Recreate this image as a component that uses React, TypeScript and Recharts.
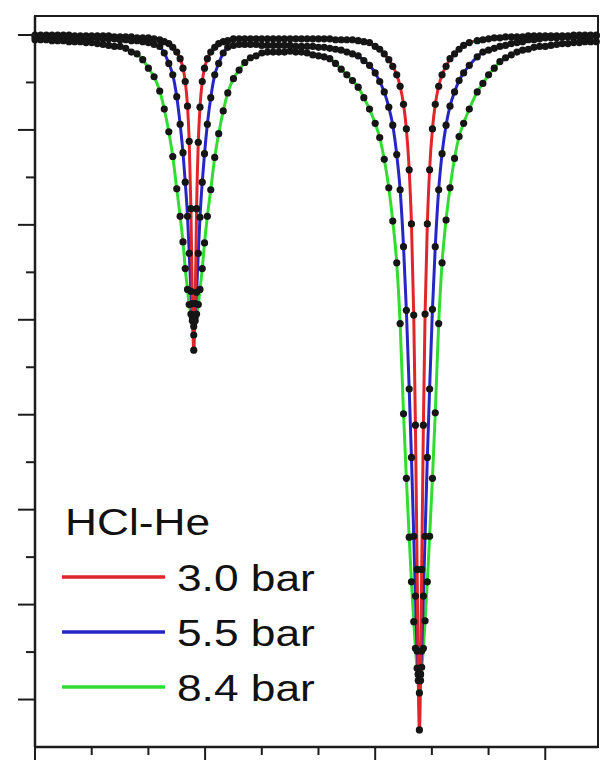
import React from 'react'
import { ComposedChart, Line, XAxis, YAxis, Legend, ReferenceArea } from 'recharts'

// detuning (arb. units) and normalised transmission
const FREQ = [
  0, 1, 2, 3, 4, 5, 6, 7, 8, 9, 10, 11, 12, 13, 14, 15, 16, 17, 18, 19, 20,
  21, 22, 22.8, 23.6, 24.3, 25, 25.6, 26.1, 26.5, 26.9, 27.2, 27.5, 27.75, 28, 28.25, 28.5, 28.8, 29.1, 29.5, 29.9, 30.4, 31, 31.7, 32.4, 33.2, 34, 35,
  36, 37, 38, 39, 40, 41, 42, 43, 44, 45, 46, 47, 48, 49, 50, 51, 52, 53, 54, 55, 56, 57, 58,
  59, 60, 60.8, 61.6, 62.4, 63.1, 63.8, 64.4, 65, 65.5, 66, 66.4, 66.8, 67.1, 67.4, 67.6, 67.8, 68, 68.2, 68.5, 68.8, 69.2, 69.6, 70.1, 70.6, 71.2, 71.8, 72.5, 73.2, 74, 74.8, 75.6, 76.6,
  78, 79, 80, 81, 82, 83, 84, 85, 86, 87, 88, 89, 90, 91, 92, 93, 94, 95, 96, 97, 98, 99,
]

const P30 = [
  1.0, 1.0, 1.0, 1.0, 1.0, 1.0, 1.0, 0.999, 0.999, 0.999, 0.999, 0.999, 0.999, 0.999, 0.998, 0.998, 0.998, 0.998, 0.997, 0.997, 0.997,
  0.996, 0.995, 0.993, 0.991, 0.987, 0.982, 0.975, 0.965, 0.951, 0.925, 0.888, 0.817, 0.717, 0.668, 0.717, 0.817, 0.887, 0.924, 0.951, 0.965, 0.975, 0.982, 0.987, 0.991, 0.993, 0.994, 0.996,
  0.996, 0.996, 0.996, 0.996, 0.996, 0.996, 0.996, 0.996, 0.996, 0.996, 0.996, 0.996, 0.996, 0.996, 0.996, 0.996, 0.996, 0.995, 0.995, 0.995, 0.995, 0.994, 0.993,
  0.992, 0.988, 0.985, 0.98, 0.974, 0.967, 0.958, 0.946, 0.927, 0.901, 0.858, 0.801, 0.705, 0.589, 0.437, 0.32, 0.268, 0.32, 0.437, 0.589, 0.706, 0.801, 0.858, 0.901, 0.927, 0.946, 0.958, 0.967, 0.975, 0.98, 0.985, 0.989, 0.992,
  0.994, 0.995, 0.996, 0.997, 0.997, 0.998, 0.998, 0.998, 0.998, 0.999, 0.999, 0.999, 0.999, 0.999, 0.999, 0.999, 0.999, 1.0, 1.0, 1.0, 1.0, 1.0,
]

const P55 = [
  0.998, 0.998, 0.998, 0.998, 0.998, 0.998, 0.998, 0.998, 0.997, 0.997, 0.997, 0.997, 0.996, 0.996, 0.996, 0.995, 0.995, 0.994, 0.994, 0.993, 0.992,
  0.99, 0.988, 0.981, 0.97, 0.958, 0.935, 0.906, 0.876, 0.845, 0.809, 0.77, 0.73, 0.703, 0.684, 0.703, 0.729, 0.77, 0.808, 0.845, 0.875, 0.906, 0.934, 0.958, 0.97, 0.981, 0.987, 0.989,
  0.99, 0.99, 0.99, 0.99, 0.989, 0.989, 0.989, 0.989, 0.989, 0.989, 0.988, 0.988, 0.988, 0.988, 0.987, 0.987, 0.986, 0.985, 0.984, 0.982, 0.98, 0.978, 0.973,
  0.968, 0.96, 0.951, 0.94, 0.924, 0.905, 0.874, 0.837, 0.777, 0.71, 0.627, 0.555, 0.472, 0.409, 0.351, 0.327, 0.307, 0.327, 0.351, 0.409, 0.472, 0.555, 0.627, 0.711, 0.777, 0.837, 0.875, 0.905, 0.925, 0.94, 0.952, 0.96, 0.968,
  0.977, 0.982, 0.984, 0.986, 0.988, 0.989, 0.991, 0.992, 0.993, 0.995, 0.995, 0.996, 0.997, 0.997, 0.997, 0.998, 0.998, 0.998, 0.998, 0.998, 0.999, 0.999,
]

const P84 = [
  0.995, 0.995, 0.995, 0.994, 0.994, 0.994, 0.993, 0.993, 0.993, 0.992, 0.992, 0.991, 0.99, 0.989, 0.988, 0.988, 0.986, 0.982, 0.98, 0.974, 0.965,
  0.956, 0.941, 0.922, 0.898, 0.872, 0.838, 0.809, 0.782, 0.754, 0.732, 0.716, 0.706, 0.699, 0.693, 0.699, 0.706, 0.716, 0.732, 0.754, 0.781, 0.809, 0.837, 0.871, 0.896, 0.92, 0.939, 0.954,
  0.963, 0.971, 0.976, 0.978, 0.981, 0.982, 0.982, 0.982, 0.982, 0.983, 0.982, 0.982, 0.981, 0.979, 0.978, 0.977, 0.975, 0.97, 0.964, 0.958, 0.952, 0.945, 0.934,
  0.922, 0.907, 0.892, 0.869, 0.839, 0.804, 0.76, 0.696, 0.601, 0.533, 0.471, 0.424, 0.382, 0.354, 0.333, 0.326, 0.32, 0.326, 0.334, 0.354, 0.383, 0.424, 0.472, 0.533, 0.602, 0.696, 0.76, 0.805, 0.839, 0.87, 0.893, 0.907, 0.922,
  0.94, 0.949, 0.958, 0.965, 0.972, 0.976, 0.979, 0.982, 0.984, 0.985, 0.987, 0.988, 0.988, 0.989, 0.99, 0.991, 0.991, 0.992, 0.992, 0.993, 0.993, 0.993,
]

const Y_TICKS = [0.3, 0.35, 0.4, 0.45, 0.5, 0.55, 0.6, 0.65, 0.7, 0.75, 0.8, 0.85, 0.9, 0.95, 1.0]
const X_TICKS = [0, 10, 20, 30, 40, 50, 60, 70, 80, 90]

const LEGEND_TITLE = 'HCl-He'
const SERIES = [
  { key: 'p30', label: '3.0 bar', color: '#e0262b' },
  { key: 'p55', label: '5.5 bar', color: '#2626c4' },
  { key: 'p84', label: '8.4 bar', color: '#32dc32' },
]

const data = FREQ.map((f, i) => ({ f, p30: P30[i], p55: P55[i], p84: P84[i] }))

const AXIS = '#1c1c1c'
const FONT = '"Liberation Sans", Arial, sans-serif'

function YTick({ x, y, payload }: any) {
  const v = payload.value * 10
  const major = Math.abs(v - Math.round(v)) < 1e-6
  const len = major ? 17 : 9
  return <line x1={x - len} x2={x} y1={y} y2={y} stroke={AXIS} strokeWidth={2} />
}

function XTick({ x, y, payload }: any) {
  const major = payload.value % 30 === 0
  const len = major ? 13 : 8
  return <line x1={x} x2={x} y1={y} y2={y + len} stroke={AXIS} strokeWidth={2} />
}

function PressureLegend() {
  return (
    <svg width={340} height={240} style={{ display: 'block' }}>
      <text transform="translate(65,55) scale(1.23,1)" fontFamily={FONT} fontSize={36} fill="#111">
        {LEGEND_TITLE}
      </text>
      {SERIES.map((s, i) => (
        <g key={s.key}>
          <line x1={62} x2={165} y1={97 + i * 55} y2={97 + i * 55} stroke={s.color} strokeWidth={3.5} />
          <text
            transform={`translate(177,${111 + i * 55}) scale(1.23,1)`}
            fontFamily={FONT}
            fontSize={36}
            fill="#111"
          >
            {s.label}
          </text>
        </g>
      ))}
    </svg>
  )
}

export default function App() {
  return (
    <div style={{ position: 'absolute', left: 0, top: 0, width: 600, height: 760, background: '#fff' }}>
      <ComposedChart width={600} height={760} data={data} margin={{ top: 16, right: 2, bottom: 0, left: 0 }}>
        <XAxis
          dataKey="f"
          type="number"
          domain={[0, 99.3]}
          ticks={X_TICKS}
          interval={0}
          height={13}
          tickSize={0}
          tickMargin={0}
          tickLine={false}
          tick={<XTick />}
          axisLine={{ stroke: AXIS, strokeWidth: 2.5 }}
        />
        <YAxis
          type="number"
          domain={[0.25, 1.02]}
          ticks={Y_TICKS}
          interval={0}
          width={35}
          tickSize={0}
          tickMargin={0}
          tickLine={false}
          tick={<YTick />}
          axisLine={{ stroke: AXIS, strokeWidth: 2.5 }}
        />
        <ReferenceArea x1={0} x2={99.3} y1={0.25} y2={1.02} fill="none" stroke={AXIS} strokeWidth={2} />
        {/* measured points */}
        {SERIES.map((s) => (
          <Line
            key={`${s.key}-pts`}
            dataKey={s.key}
            stroke="none"
            dot={{ r: 3.6, fill: '#151515', stroke: 'none' }}
            activeDot={false}
            legendType="none"
            isAnimationActive={false}
          />
        ))}
        {/* fits, red on top */}
        {[...SERIES].reverse().map((s) => (
          <Line
            key={s.key}
            type="monotone"
            dataKey={s.key}
            stroke={s.color}
            strokeWidth={3}
            dot={false}
            activeDot={false}
            isAnimationActive={false}
          />
        ))}
        <Legend
          content={() => <PressureLegend />}
          layout="horizontal"
          verticalAlign="middle"
          align="center"
          wrapperStyle={{ left: 0, top: 480, width: 340, height: 240 }}
        />
      </ComposedChart>
    </div>
  )
}
